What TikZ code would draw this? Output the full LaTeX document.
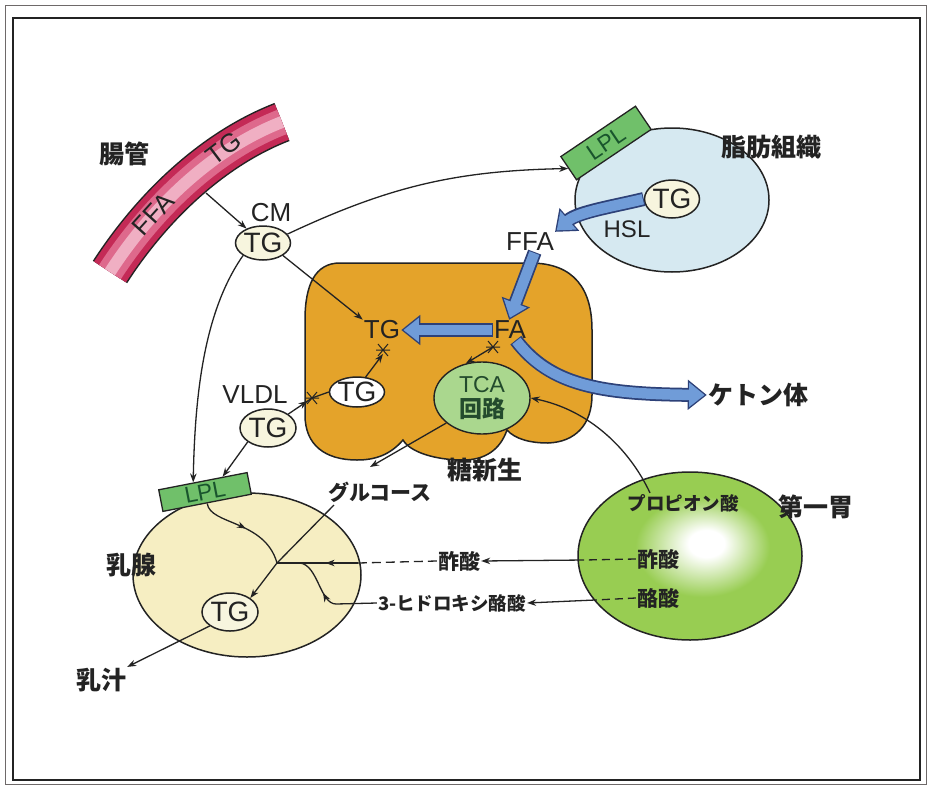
\documentclass[tikz,border=0pt]{standalone}
\usepackage{fontspec}
\setmainfont{Liberation Sans}
\newfontfamily\jp{Noto Sans CJK JP}
\usetikzlibrary{shapes.geometric,arrows.meta,decorations.markings,calc}

\definecolor{ink}{RGB}{35,35,35}
\definecolor{framegray}{RGB}{110,105,105}
\definecolor{gutdark}{RGB}{196,42,86}
\definecolor{gutmid}{RGB}{222,105,140}
\definecolor{gutlight}{RGB}{240,175,195}
\definecolor{adipose}{RGB}{214,233,241}
\definecolor{lplgreen}{RGB}{112,192,106}
\definecolor{lpltext}{RGB}{25,85,45}
\definecolor{liver}{RGB}{228,163,42}
\definecolor{tcagreen}{RGB}{170,215,142}
\definecolor{tcatext}{RGB}{35,75,45}
\definecolor{mammary}{RGB}{246,238,194}
\definecolor{cream}{RGB}{247,245,222}
\definecolor{rumenedge}{RGB}{104,170,42}
\definecolor{rumenmid}{RGB}{152,205,82}
\definecolor{bluefill}{RGB}{112,156,216}
\definecolor{bluedark}{RGB}{45,65,120}

% rumen body: darker rim, bright spot slightly right of and above the centre
\pgfdeclareradialshading{rumenshade}{\pgfpoint{4bp}{4bp}}{%
  color(0bp)=(white); color(4bp)=(white); color(15bp)=(rumenmid);
  color(32bp)=(rumenmid); color(50bp)=(rumenedge)}

% fat arrow with a dark rim
\newcommand{\bluearrow}[1]{%
  \draw[line width=14pt, draw=bluedark, -{Triangle[length=19pt,width=29pt]}] #1;
  \draw[line width=10.5pt, draw=bluefill, shorten >=2.2pt, shorten <=1pt,
        -{Triangle[length=15.5pt,width=23.5pt]}] #1;}

\tikzset{
  conn/.style={draw=ink, line width=1.3pt},
  tip/.style={-{Stealth[length=9pt,width=6.5pt]}},
  midtip/.style={postaction={decorate}, decoration={markings,
      mark=at position #1 with {\arrow{Stealth[length=9pt,width=6.5pt]}}}},
  tgnode/.style={ellipse, draw=ink, line width=1.5pt, fill=cream, inner sep=0pt,
      minimum width=54pt, minimum height=34pt, text=ink,
      font=\fontsize{28}{28}\selectfont},
  organ/.style={ellipse, draw=ink, line width=1.5pt, inner sep=0pt},
  lplbox/.style={draw=ink, line width=1.3pt, fill=lplgreen, text=lpltext,
      inner sep=0pt, font=\fontsize{23}{23}\selectfont},
  lab/.style={text=ink, inner sep=1pt, font=\fontsize{26}{26}\selectfont},
  jlab/.style={text=ink, inner sep=1pt, font=\jp\bfseries\fontsize{25}{25}\selectfont},
  jmid/.style={text=ink, inner sep=1pt, font=\jp\bfseries\fontsize{21}{21}\selectfont},
  jsmall/.style={text=ink, inner sep=1pt, font=\jp\bfseries\fontsize{18.5}{18.5}\selectfont},
  memb/.pic={\draw[ink, line width=1pt] (-7,0) -- (7,0) (-5,-6) -- (5,6) (-5,6) -- (5,-6);}
}

\begin{document}
\begin{tikzpicture}[x=1pt,y=-1pt]
\useasboundingbox (0,0) rectangle (931,787);
\fill[white] (0,0) rectangle (931,787);

% double frame
\draw[framegray, line width=0.9pt] (5,5) rectangle (926,784);
\draw[ink, line width=1.3pt] (13,18) rectangle (920,780);

% intestine
\draw[line width=41pt, ink] (110,272) .. controls (150,210) and (210,150) .. (282,122);
\draw[line width=38pt, gutdark] (110,272) .. controls (150,210) and (210,150) .. (282,122);
\draw[line width=26pt, gutmid] (110,272) .. controls (150,210) and (210,150) .. (282,122);
\draw[line width=12pt, gutlight] (110,272) .. controls (150,210) and (210,150) .. (282,122);
\node[lab, rotate=48, inner sep=0pt] (gutffa) at (153,214) {FFA};
\node[lab, rotate=37, inner sep=0pt] (guttg) at (224,148) {TG};
\coordinate (gutCM) at (206,193);

% adipose tissue
\node[organ, fill=adipose, minimum width=194pt, minimum height=144pt] (adi) at (672,200) {};
\node[lplbox, rotate=34, minimum width=90pt, minimum height=28pt] (alpl) at (606,143) {LPL};

% mammary gland
\node[organ, fill=mammary, minimum width=228pt, minimum height=164pt] (mam) at (247,575) {};
\node[lplbox, rotate=11, minimum width=90pt, minimum height=22pt] (mlpl) at (205,492) {LPL};

% rumen
\node[organ, shade, shading=rumenshade, minimum width=224pt, minimum height=168pt] (rumen) at (690,556) {};

% liver
\path[draw=ink, line width=1.5pt, fill=liver]
  (340,263) -- (530,263) .. controls (575,263) and (592,290) .. (592,330)
  -- (592,395) .. controls (592,425) and (575,442) .. (548,443)
  .. controls (530,443) and (515,439) .. (507,430)
  .. controls (500,450) and (485,460) .. (463,460)
  .. controls (435,460) and (410,452) .. (403,440)
  .. controls (390,455) and (375,460) .. (357,460)
  .. controls (325,460) and (305,445) .. (305,415)
  -- (305,320) .. controls (305,285) and (315,263) .. (340,263) -- cycle;
\node[ellipse, draw=ink, line width=1.4pt, fill=tcagreen, minimum width=96pt,
      minimum height=72pt, inner sep=0pt, align=center, text=tcatext,
      font=\fontsize{23}{25}\selectfont] (tca) at (482,398)
  {TCA\\{\jp\bfseries 回路}};

% tissue labels
\node[jlab] (gutlab) at (124,154) {腸管};
\node[jlab] (adilab) at (771,147) {脂肪組織};
\node[jlab] (ket) at (758,395) {ケトン体};
\node[jlab] (gng) at (485,470) {糖新生};
\node[jlab] (rumlab) at (816,507) {第一胃};
\node[jlab] (mamlab) at (131,565) {乳腺};
\node[jlab] (milk) at (101,680) {乳汁};
\node[jmid] (glc) at (380,492) {グルコース};
\node[jsmall] (prop) at (683,503) {プロピオン酸};
\node[jmid] (ace1) at (658,559) {酢酸};
\node[jmid] (but) at (658,598) {酪酸};
\node[jmid] (ace2) at (459,561) {酢酸};
\node[jsmall] (hb) at (452,603) {3-ヒドロキシ酪酸};

% metabolite labels
\node[lab] (cm) at (271,213) {CM};
\node[lab] (vldl) at (255,395) {VLDL};
\node[lab] (ffa) at (530,242) {FFA};
\node[lab, font=\fontsize{24}{24}\selectfont] (hsl) at (627,229) {HSL};
\node[lab] (ltgt) at (382,330) {TG};
\node[lab] (fa) at (510,330) {FA};

% triglyceride pools
\node[tgnode] (cmtg) at (263,243) {TG};
\node[tgnode, minimum height=38pt] (atg) at (672,199) {TG};
\node[tgnode, fill=white, minimum height=30pt] (ltg) at (357,392) {TG};
\node[tgnode, minimum width=56pt, minimum height=38pt] (vtg) at (268,428) {TG};
\node[tgnode, minimum width=56pt, minimum height=38pt] (mtg) at (230,612) {TG};

% membrane marks
\coordinate (xTG) at (383,350);
\coordinate (xFA) at (493,347);
\coordinate (xVL) at (312,398);
\pic at (xTG) {memb};
\pic at (xFA) {memb};
\pic at (xVL) {memb};

% junction points
\coordinate (jct) at (277,563);
\coordinate (hbjoin) at (300,563);
\coordinate (hbk) at (336,604);
\coordinate (mgE) at (358,563);
\coordinate (rumW1) at (584,560);
\coordinate (rumW2) at (595,600);
\coordinate (glcin) at (370,467);
\coordinate (glcout) at (334,505);
\coordinate (propout) at ($(prop.north)+(-33,0)$);

% thin connectors
\draw[conn, tip] (gutCM) -- (cmtg);
\draw[conn, tip] (cmtg.20) to[bend left=12] (alpl.west);
\draw[conn, tip] (cmtg.south east) -- (ltgt.north west);
\draw[conn, tip] (cmtg.south west) .. controls (205,310) and (195,390) .. (mlpl.130);
\draw[conn, tip] (vtg.south west) -- (mlpl.30);
\draw[conn, midtip=0.5] (vtg.north east) -- (xVL) -- (ltg.west);
\draw[conn, tip] (ltg.60) -- ($(xTG)+(0,4)$);
\draw[conn, tip] (xFA) -- (tca.115);
\draw[conn, tip] (tca.215) -- (glcin);
\draw[conn] (glcout) -- (jct);
\draw[conn, tip] (propout) .. controls (630,450) and (590,410) .. (tca.east);
\draw[conn, midtip=0.5] (mlpl.south) .. controls (210,525) and (265,520) .. (jct);
\draw[conn, tip] (jct) -- (mtg.north east);
\draw[conn, dash pattern=on 9pt off 5pt] (ace2.west) -- (mgE);
\draw[conn, midtip=0.4] (mgE) -- (jct);
\draw[conn, dash pattern=on 8pt off 5pt] (ace1.west) -- (rumW1);
\draw[conn, tip] (rumW1) -- (ace2.east);
\draw[conn, dash pattern=on 8pt off 5pt] (but.west) -- (rumW2);
\draw[conn, tip] (rumW2) -- (hb.east);
\draw[conn, midtip=0.6] (hb.west) -- (hbk) .. controls (320,604) and (318,565) .. (hbjoin);
\draw[conn, tip] (mtg.south west) -- (milk.north east);

% fatty acid flows
\bluearrow{(atg.west) .. controls (615,206) and (578,212) .. (ffa.north east)}
\bluearrow{(ffa.-65) -- (fa.95)}
\bluearrow{(fa.west) -- (ltgt.east)}
\bluearrow{(fa.-60) .. controls (550,385) and (600,394) .. (ket.west)}
\end{tikzpicture}
\end{document}
